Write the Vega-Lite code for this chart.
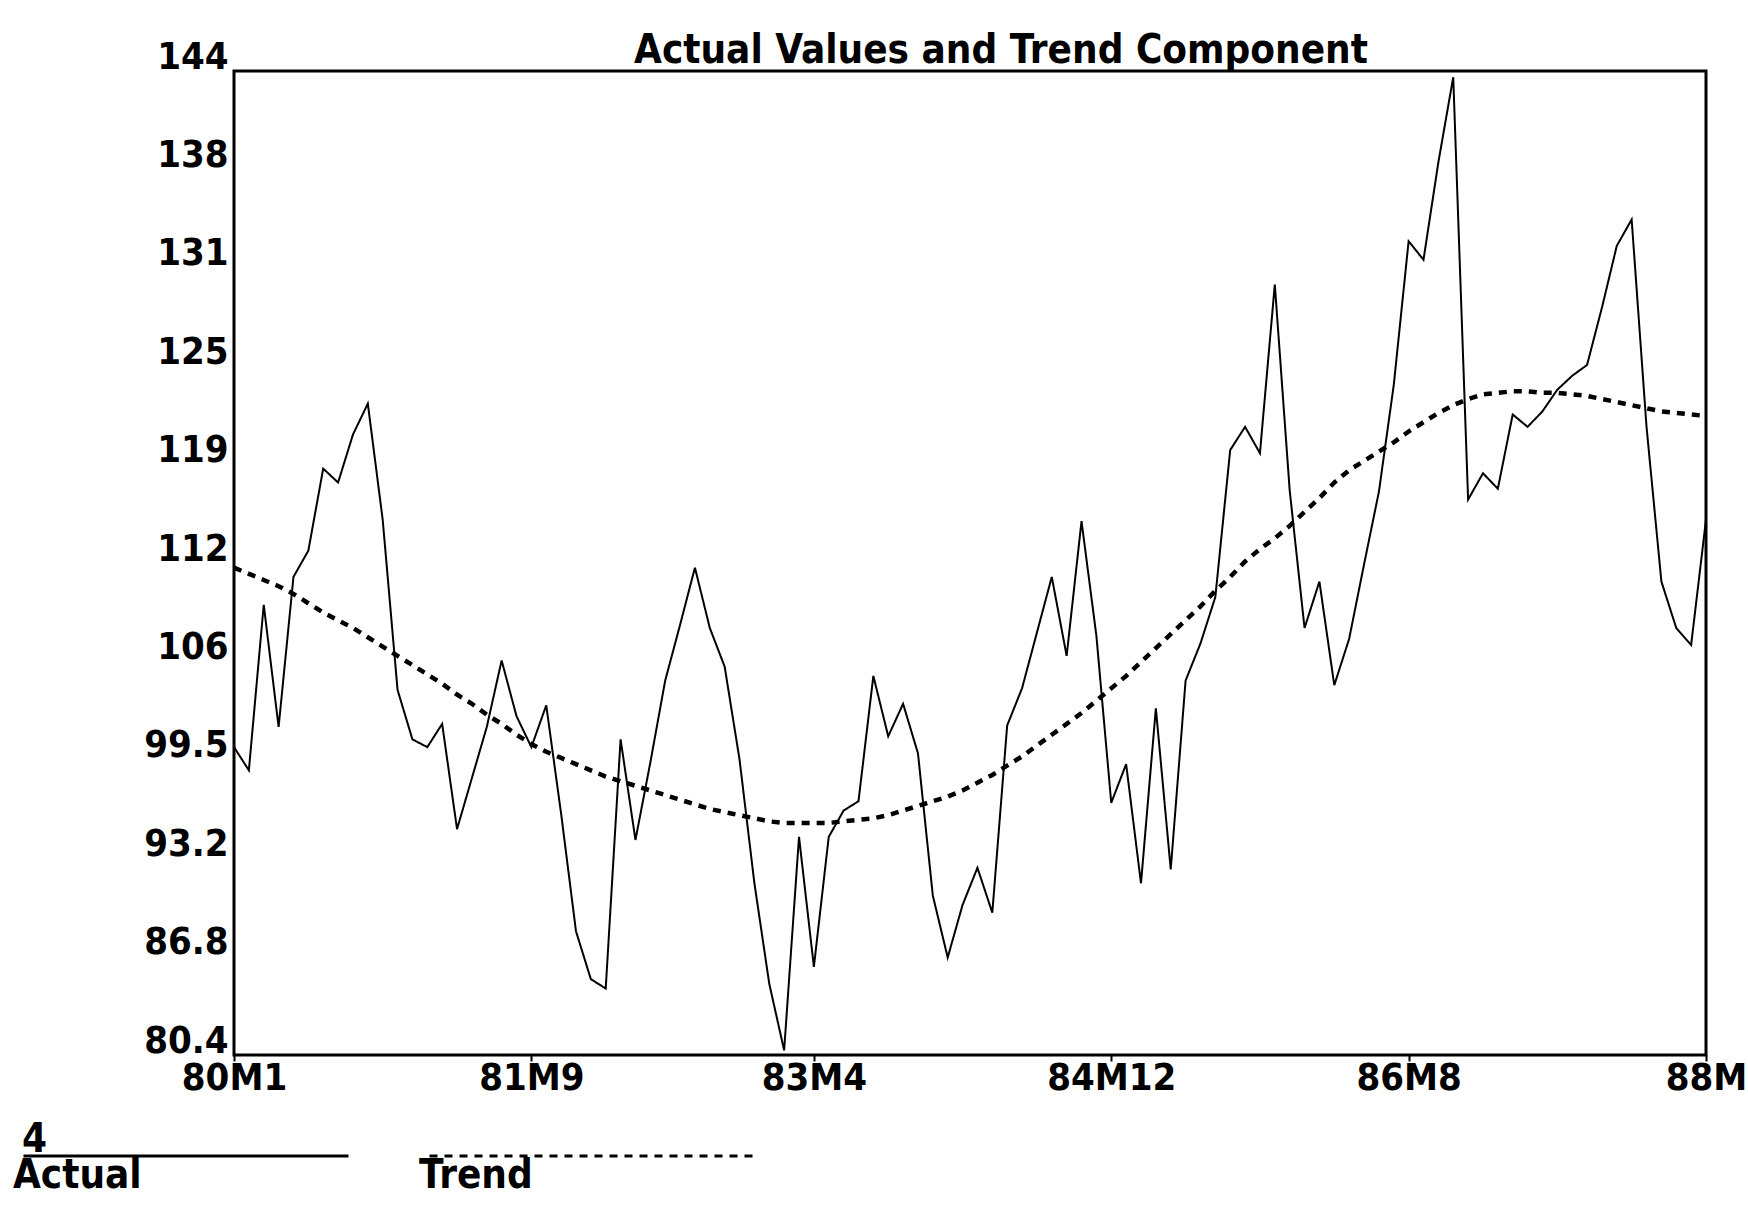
{
  "$schema": "https://vega.github.io/schema/vega-lite/v6.json",
  "width": 1472,
  "height": 984,
  "padding": {"left": 22, "top": 31, "right": 0, "bottom": 0},
  "autosize": {"type": "pad"},
  "background": "white",
  "title": {
    "text": "Actual Values and Trend Component",
    "font": "DejaVu Sans Condensed, sans-serif",
    "fontSize": 40,
    "fontWeight": "bold",
    "color": "black",
    "anchor": "middle",
    "frame": "group",
    "offset": -33,
    "dx": 31
  },
  "data": {
    "values": [
      {"t": 0, "actual": 100.3, "trend": 111.9},
      {"t": 1, "actual": 98.8, "trend": 111.5},
      {"t": 2, "actual": 109.5, "trend": 111.1},
      {"t": 3, "actual": 101.6, "trend": 110.7},
      {"t": 4, "actual": 111.3, "trend": 110.2},
      {"t": 5, "actual": 113.0, "trend": 109.6},
      {"t": 6, "actual": 118.3, "trend": 109.0},
      {"t": 7, "actual": 117.4, "trend": 108.5},
      {"t": 8, "actual": 120.5, "trend": 108.0},
      {"t": 9, "actual": 122.5, "trend": 107.4},
      {"t": 10, "actual": 115.0, "trend": 106.8},
      {"t": 11, "actual": 104.0, "trend": 106.2},
      {"t": 12, "actual": 100.8, "trend": 105.6},
      {"t": 13, "actual": 100.3, "trend": 105.0},
      {"t": 14, "actual": 101.8, "trend": 104.4},
      {"t": 15, "actual": 95.0, "trend": 103.7},
      {"t": 16, "actual": 98.3, "trend": 103.1},
      {"t": 17, "actual": 101.6, "trend": 102.4},
      {"t": 18, "actual": 105.9, "trend": 101.8},
      {"t": 19, "actual": 102.3, "trend": 101.1},
      {"t": 20, "actual": 100.3, "trend": 100.5},
      {"t": 21, "actual": 103.0, "trend": 100.0},
      {"t": 22, "actual": 96.0, "trend": 99.6},
      {"t": 23, "actual": 88.4, "trend": 99.2},
      {"t": 24, "actual": 85.3, "trend": 98.8},
      {"t": 25, "actual": 84.7, "trend": 98.4},
      {"t": 26, "actual": 100.8, "trend": 98.1},
      {"t": 27, "actual": 94.3, "trend": 97.8},
      {"t": 28, "actual": 99.3, "trend": 97.5},
      {"t": 29, "actual": 104.6, "trend": 97.2},
      {"t": 30, "actual": 108.2, "trend": 96.9},
      {"t": 31, "actual": 111.9, "trend": 96.6},
      {"t": 32, "actual": 108.0, "trend": 96.3},
      {"t": 33, "actual": 105.5, "trend": 96.1},
      {"t": 34, "actual": 99.5, "trend": 95.9},
      {"t": 35, "actual": 91.5, "trend": 95.7},
      {"t": 36, "actual": 85.0, "trend": 95.5},
      {"t": 37, "actual": 80.7, "trend": 95.4},
      {"t": 38, "actual": 94.5, "trend": 95.4},
      {"t": 39, "actual": 86.1, "trend": 95.4},
      {"t": 40, "actual": 94.5, "trend": 95.4},
      {"t": 41, "actual": 96.2, "trend": 95.5},
      {"t": 42, "actual": 96.8, "trend": 95.6},
      {"t": 43, "actual": 104.9, "trend": 95.7},
      {"t": 44, "actual": 101.0, "trend": 95.9},
      {"t": 45, "actual": 103.1, "trend": 96.2},
      {"t": 46, "actual": 99.9, "trend": 96.5},
      {"t": 47, "actual": 90.7, "trend": 96.8},
      {"t": 48, "actual": 86.7, "trend": 97.1},
      {"t": 49, "actual": 90.1, "trend": 97.5},
      {"t": 50, "actual": 92.5, "trend": 98.0},
      {"t": 51, "actual": 89.6, "trend": 98.5},
      {"t": 52, "actual": 101.7, "trend": 99.1},
      {"t": 53, "actual": 104.1, "trend": 99.7},
      {"t": 54, "actual": 107.7, "trend": 100.4},
      {"t": 55, "actual": 111.3, "trend": 101.1},
      {"t": 56, "actual": 106.2, "trend": 101.8},
      {"t": 57, "actual": 114.9, "trend": 102.5},
      {"t": 58, "actual": 107.5, "trend": 103.3},
      {"t": 59, "actual": 96.7, "trend": 104.1},
      {"t": 60, "actual": 99.2, "trend": 104.9},
      {"t": 61, "actual": 91.5, "trend": 105.8},
      {"t": 62, "actual": 102.8, "trend": 106.7},
      {"t": 63, "actual": 92.4, "trend": 107.6},
      {"t": 64, "actual": 104.6, "trend": 108.5},
      {"t": 65, "actual": 107.0, "trend": 109.4},
      {"t": 66, "actual": 110.0, "trend": 110.4},
      {"t": 67, "actual": 119.5, "trend": 111.3},
      {"t": 68, "actual": 121.0, "trend": 112.3},
      {"t": 69, "actual": 119.3, "trend": 113.1},
      {"t": 70, "actual": 130.2, "trend": 113.8},
      {"t": 71, "actual": 116.9, "trend": 114.6},
      {"t": 72, "actual": 108.0, "trend": 115.5},
      {"t": 73, "actual": 111.0, "trend": 116.4},
      {"t": 74, "actual": 104.3, "trend": 117.4},
      {"t": 75, "actual": 107.3, "trend": 118.2},
      {"t": 76, "actual": 112.1, "trend": 118.8},
      {"t": 77, "actual": 116.8, "trend": 119.4},
      {"t": 78, "actual": 123.7, "trend": 120.0},
      {"t": 79, "actual": 133.0, "trend": 120.7},
      {"t": 80, "actual": 131.8, "trend": 121.3},
      {"t": 81, "actual": 138.1, "trend": 121.9},
      {"t": 82, "actual": 143.6, "trend": 122.4},
      {"t": 83, "actual": 116.3, "trend": 122.8},
      {"t": 84, "actual": 118.0, "trend": 123.1},
      {"t": 85, "actual": 117.0, "trend": 123.2},
      {"t": 86, "actual": 121.8, "trend": 123.3},
      {"t": 87, "actual": 121.0, "trend": 123.3},
      {"t": 88, "actual": 122.0, "trend": 123.2},
      {"t": 89, "actual": 123.4, "trend": 123.2},
      {"t": 90, "actual": 124.3, "trend": 123.1},
      {"t": 91, "actual": 125.0, "trend": 123.0},
      {"t": 92, "actual": 128.7, "trend": 122.8},
      {"t": 93, "actual": 132.7, "trend": 122.6},
      {"t": 94, "actual": 134.4, "trend": 122.4},
      {"t": 95, "actual": 121.0, "trend": 122.2},
      {"t": 96, "actual": 111.0, "trend": 122.0},
      {"t": 97, "actual": 108.0, "trend": 121.9},
      {"t": 98, "actual": 106.9, "trend": 121.8},
      {"t": 99, "actual": 115.0, "trend": 121.7}
    ]
  },
  "layer": [
    {
      "mark": {"type": "line", "color": "black", "strokeWidth": 2},
      "encoding": {
        "x": {
          "field": "t",
          "type": "quantitative",
          "scale": {"domain": [0, 99], "nice": false, "zero": false},
          "axis": {
            "title": null,
            "grid": false,
            "domain": false,
            "values": [0, 20, 39, 59, 79, 99],
            "labelExpr": "datum.value==0?'80M1':datum.value==20?'81M9':datum.value==39?'83M4':datum.value==59?'84M12':datum.value==79?'86M8':'88M'",
            "ticks": true,
            "tickSize": 6,
            "tickWidth": 2,
            "tickColor": "black",
            "labelFlush": false,
            "labelOverlap": false,
            "labelBound": false,
            "labelPadding": -2,
            "labelFont": "DejaVu Sans Condensed, sans-serif",
            "labelFontSize": 38,
            "labelFontWeight": "bold",
            "labelColor": "black"
          }
        },
        "y": {
          "field": "actual",
          "type": "quantitative",
          "scale": {"domain": [80.4, 144], "nice": false, "zero": false},
          "axis": {
            "title": null,
            "grid": false,
            "domain": false,
            "ticks": false,
            "values": [80.4, 86.76, 93.12, 99.48, 105.84, 112.2, 118.56, 124.92, 131.28, 137.64, 144],
            "labelExpr": "['80.4','86.8','93.2','99.5','106','112','119','125','131','138','144'][round((datum.value-80.4)/6.36)]",
            "labelOverlap": false,
            "labelFlush": false,
            "labelBaseline": "bottom",
            "labelOffset": 5,
            "labelPadding": 6,
            "labelFont": "DejaVu Sans Condensed, sans-serif",
            "labelFontSize": 38,
            "labelFontWeight": "bold",
            "labelColor": "black"
          }
        },
        "strokeDash": {
          "datum": "Actual",
          "type": "nominal",
          "scale": {"domain": ["Actual", "Trend"], "range": [[1, 0], [8, 7]]},
          "legend": {
            "title": "4",
            "orient": "none",
            "legendX": -212,
            "legendY": 1049,
            "direction": "horizontal",
            "padding": 0,
            "symbolType": "stroke",
            "symbolSize": 105625,
            "symbolStrokeWidth": 3,
            "symbolStrokeColor": "black",
            "columnPadding": 64,
            "labelOffset": -337,
            "labelBaseline": "top",
            "labelLimit": 400,
            "labelFont": "DejaVu Sans Condensed, sans-serif",
            "labelFontSize": 40,
            "labelFontWeight": "bold",
            "labelColor": "black",
            "titleFont": "DejaVu Sans Condensed, sans-serif",
            "titleFontSize": 40,
            "titleFontWeight": "bold",
            "titleColor": "black",
            "titlePadding": -168,
            "titleAnchor": "start"
          }
        }
      }
    },
    {
      "mark": {"type": "line", "color": "black", "strokeWidth": 4.5},
      "encoding": {
        "x": {"field": "t", "type": "quantitative"},
        "y": {"field": "trend", "type": "quantitative"},
        "strokeDash": {"datum": "Trend", "type": "nominal"}
      }
    }
  ],
  "config": {
    "font": "DejaVu Sans Condensed, sans-serif",
    "view": {"stroke": "black", "strokeWidth": 3}
  }
}
